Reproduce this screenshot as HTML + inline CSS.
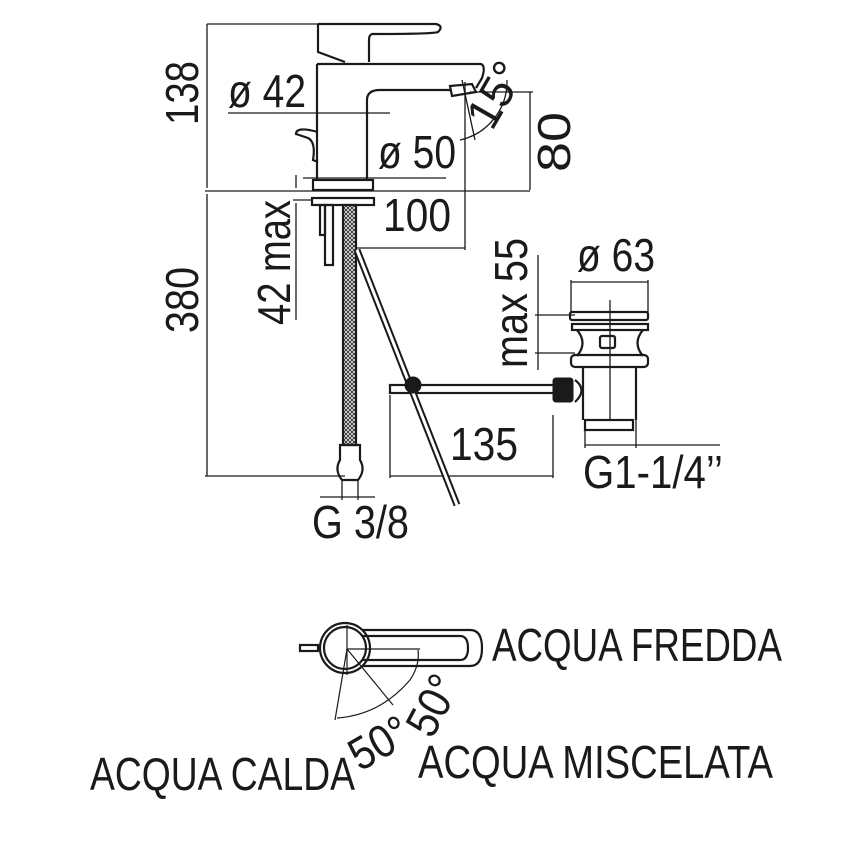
<!DOCTYPE html>
<html><head><meta charset="utf-8"><style>html,body{margin:0;padding:0;background:#fff}svg{display:block}text{font-family:"Liberation Sans",sans-serif;fill:#1a1a1a}</style></head>
<body>
<svg width="860" height="865" viewBox="0 0 860 865" xmlns="http://www.w3.org/2000/svg">
<defs>
<pattern id="br" width="4" height="4" patternUnits="userSpaceOnUse">
<rect width="4" height="4" fill="#fff"/><path d="M0 0 L4 4 M4 0 L0 4" stroke="#333" stroke-width="1"/>
</pattern>
</defs>
<g fill="none" stroke="#1a1a1a" stroke-width="1.3">
<line x1="207" y1="24" x2="318" y2="24"/>
<line x1="207" y1="24" x2="207" y2="188"/>
<line x1="205" y1="191" x2="530" y2="191"/>
<line x1="207" y1="194" x2="207" y2="476"/>
<line x1="205" y1="476" x2="345" y2="476"/>
<line x1="228" y1="113" x2="390" y2="113"/>
<line x1="303" y1="178" x2="446" y2="178"/>
<line x1="530" y1="92" x2="530" y2="190"/>
<line x1="470" y1="92" x2="533" y2="92"/>
<line x1="465" y1="82" x2="465" y2="250"/>
<line x1="357" y1="248" x2="465" y2="248"/>
<line x1="296" y1="175" x2="296" y2="188"/>
<line x1="293" y1="200" x2="312" y2="200"/>
<line x1="296" y1="203" x2="296" y2="320"/>
<path d="M460 140 A60 60 0 0 0 507 80"/>
<line x1="462" y1="80" x2="475" y2="140"/>
<line x1="538" y1="255" x2="538" y2="370"/>
<line x1="535" y1="315" x2="575" y2="315"/>
<line x1="535" y1="353" x2="575" y2="353"/>
<line x1="571" y1="282" x2="648" y2="282"/>
<line x1="571" y1="280" x2="571" y2="312"/>
<line x1="648" y1="280" x2="648" y2="312"/>
<line x1="610" y1="300" x2="610" y2="420"/>
<line x1="585" y1="445" x2="720" y2="445"/>
<line x1="585" y1="430" x2="585" y2="448"/>
<line x1="636" y1="420" x2="636" y2="448"/>
<line x1="390" y1="395" x2="390" y2="478"/>
<line x1="553" y1="415" x2="553" y2="478"/>
<line x1="390" y1="476" x2="553" y2="476"/>
<line x1="320" y1="497" x2="375" y2="497"/>
<line x1="342" y1="480" x2="342" y2="500"/>
<line x1="358" y1="480" x2="358" y2="500"/>
</g>
<g fill="none" stroke="#1a1a1a" stroke-width="2.2">
<path d="M318 24 H436 Q444 26 438 32 Q434 34 372 34 Q369 35 369 40 V62 M318 24 V52 L345 62"/>
<path d="M317 64 H481 Q486 66 482 78 L476 88 M317 64 V180 M367 180 V100 Q367 90 380 90 H450"/>
<path d="M450 86 L472 84 L476 92 L452 96 Z"/>
<path d="M318 132 Q296 126 296 134 L308 138 Q316 142 313 160 L318 162"/>
<rect x="313" y="180" width="60" height="10"/>
<rect x="312" y="198" width="62" height="7"/>
<rect x="325" y="205" width="8" height="60"/>
<rect x="320" y="205" width="5" height="30"/>
<rect x="343" y="205" width="13" height="240" fill="url(#br)"/>
<path d="M340 445 H360 V460 Q366 470 358 480 H342 Q334 470 340 460 Z"/>
<rect x="570" y="312" width="78" height="8" rx="2"/>
<rect x="572" y="324" width="76" height="6"/>
<path d="M577 330 Q588 343 577 356 M643 330 Q632 343 643 356"/>
<rect x="600" y="336" width="15" height="12" rx="2"/>
<rect x="571" y="355" width="77" height="12" rx="4"/>
<path d="M583 367 V420 M636 367 V420"/>
<rect x="585" y="420" width="48" height="10"/>
<path d="M575 380 Q588 390 575 402"/>
<rect x="390" y="385" width="165" height="8"/>
</g>
<g stroke="#1a1a1a" fill="#1a1a1a">
<line x1="357" y1="250" x2="457" y2="505" stroke-width="7"/>
<line x1="357" y1="250" x2="457" y2="505" stroke="#fff" stroke-width="3"/>
<circle cx="413" cy="385" r="8"/>
<rect x="553" y="378" width="20" height="24" rx="3"/>
</g>
<g fill="none" stroke="#1a1a1a" stroke-width="2.2">
<circle cx="345" cy="648" r="25"/>
<circle cx="345" cy="648" r="21"/>
<path d="M362 630 H470 Q482 630 482 648 Q482 666 470 666 H362"/>
<path d="M362 636 H460 Q468 636 468 648 Q468 660 460 660 H362"/>
<rect x="300" y="645" width="18" height="6"/>
</g>
<g fill="none" stroke="#1a1a1a" stroke-width="1.2">
<line x1="347" y1="625" x2="347" y2="675"/>
<line x1="347" y1="649" x2="420" y2="649"/>
<line x1="347" y1="649" x2="335" y2="720"/>
<line x1="347" y1="649" x2="393" y2="705"/>
<path d="M337 718 Q380 715 410 680 Q420 665 418 650"/>
</g>
<g font-size="46">
<text transform="translate(198,125) rotate(-90)" textLength="64" lengthAdjust="spacingAndGlyphs">138</text>
<text transform="translate(198,333) rotate(-90)" textLength="66" lengthAdjust="spacingAndGlyphs">380</text>
<text transform="translate(290,325) rotate(-90)" textLength="125" lengthAdjust="spacingAndGlyphs">42 max</text>
<text transform="translate(570,172) rotate(-90)" textLength="60" lengthAdjust="spacingAndGlyphs">80</text>
<text transform="translate(527,368) rotate(-90)" textLength="130" lengthAdjust="spacingAndGlyphs">max 55</text>
<text x="228" y="107" textLength="78" lengthAdjust="spacingAndGlyphs">ø 42</text>
<text x="378" y="168" textLength="78" lengthAdjust="spacingAndGlyphs">ø 50</text>
<text x="383" y="231" textLength="68" lengthAdjust="spacingAndGlyphs">100</text>
<text x="577" y="271" textLength="78" lengthAdjust="spacingAndGlyphs">ø 63</text>
<text x="450" y="460" textLength="68" lengthAdjust="spacingAndGlyphs">135</text>
<text x="583" y="488" textLength="140" lengthAdjust="spacingAndGlyphs">G1-1/4’’</text>
<text x="312" y="538" textLength="97" lengthAdjust="spacingAndGlyphs">G 3/8</text>
<text transform="translate(492,132) rotate(-60)" textLength="68" lengthAdjust="spacingAndGlyphs">15°</text>
<text x="492" y="661" textLength="290" lengthAdjust="spacingAndGlyphs">ACQUA FREDDA</text>
<text x="90" y="790" textLength="265" lengthAdjust="spacingAndGlyphs">ACQUA CALDA</text>
<text x="418" y="778" textLength="355" lengthAdjust="spacingAndGlyphs">ACQUA MISCELATA</text>
<text transform="translate(360,772) rotate(-30)" textLength="62" lengthAdjust="spacingAndGlyphs">50°</text>
<text transform="translate(432,740) rotate(-62)" textLength="62" lengthAdjust="spacingAndGlyphs">50°</text>
</g>
</svg>
</body></html>
